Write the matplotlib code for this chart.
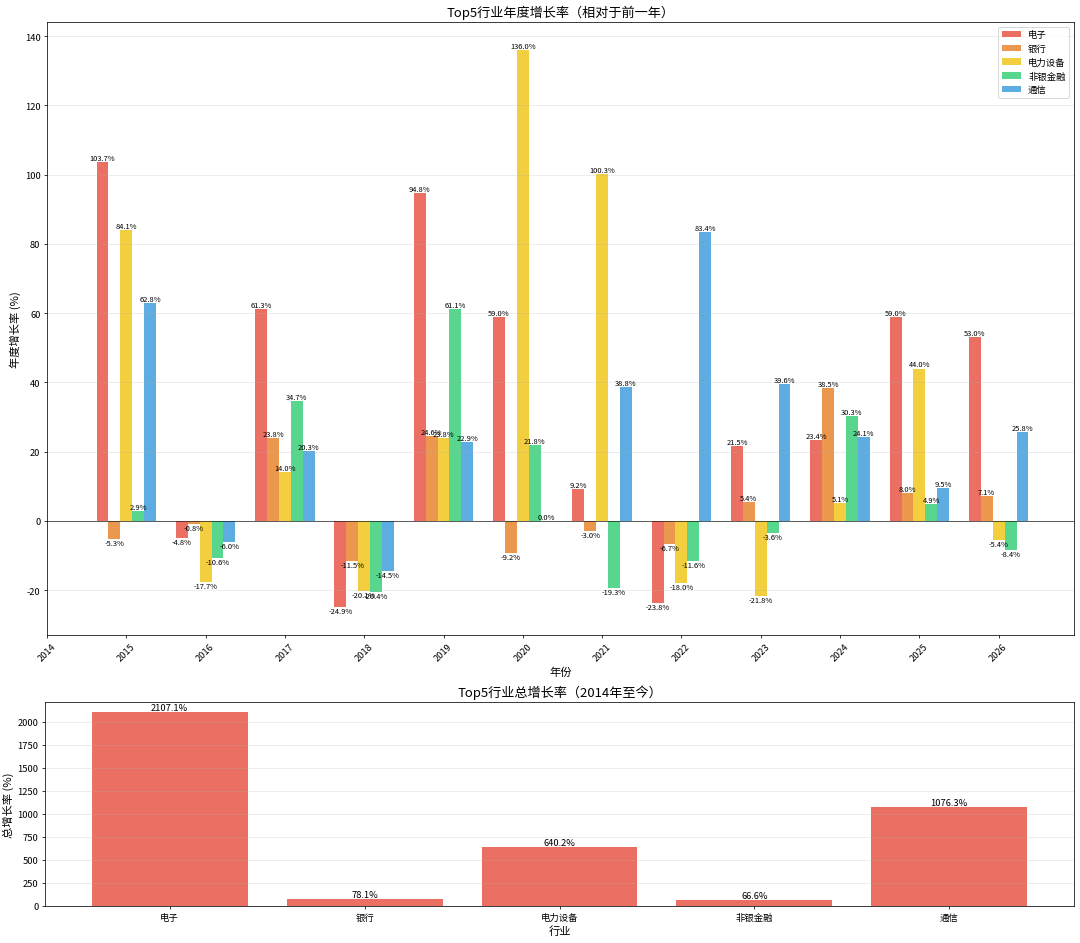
import matplotlib
matplotlib.use("Agg")
import matplotlib.pyplot as plt
import numpy as np

plt.rcParams['font.family'] = ['Noto Sans CJK SC', 'DejaVu Sans']
plt.rcParams['axes.unicode_minus'] = False

years = [2015, 2016, 2017, 2018, 2019, 2020, 2021, 2022, 2023, 2024, 2025, 2026]
industries = ['电子', '银行', '电力设备', '非银金融', '通信']
colors = ['#e74c3c', '#e67e22', '#f1c40f', '#2ecc71', '#3498db']

growth_dianzi = [103.7, -4.8, 61.3, -24.9, 94.8, 59.0, 9.2, -23.8, 21.5, 23.4, 59.0, 53.0]
growth_yinhang = [-5.3, -0.8, 23.8, -11.5, 24.6, -9.2, -3.0, -6.7, 5.4, 38.5, 8.0, 7.1]
growth_dianli = [84.1, -17.7, 14.0, -20.1, 23.8, 136.0, 100.3, -18.0, -21.8, 5.1, 44.0, -5.4]
growth_feiyin = [2.9, -10.6, 34.7, -20.4, 61.1, 21.8, -19.3, -11.6, -3.6, 30.3, 4.9, -8.4]
growth_tongxin = [62.8, -6.0, 20.3, -14.5, 22.9, 0.0, 38.8, 83.4, 39.6, 24.1, 9.5, 25.8]
series = [growth_dianzi, growth_yinhang, growth_dianli, growth_feiyin, growth_tongxin]

total_growth = [2107.1, 78.1, 640.2, 66.6, 1076.3]
xtick_years = list(range(2014, 2027))

fig = plt.figure(figsize=(16, 13.985), dpi=67.5)
ax1 = fig.add_axes([47/1080, 1-636/944, (1074-47)/1080, (636-23)/944])
ax2 = fig.add_axes([45/1080, 1-907/944, (1074-45)/1080, (907-703)/944])

width = 0.15
x = np.array(years, dtype=float)
for i, (name, vals, c) in enumerate(zip(industries, series, colors)):
    pos = x + (i - 2) * width
    bars = ax1.bar(pos, vals, width, label=name, color=c, alpha=0.8)
    for b, v in zip(bars, vals):
        if v >= 0:
            ax1.text(b.get_x() + b.get_width()/2, v, f'{v:.1f}%', ha='center', va='bottom', fontsize=8)
        else:
            ax1.text(b.get_x() + b.get_width()/2, v, f'{v:.1f}%', ha='center', va='top', fontsize=8)

ax1.axhline(0, color='black', linewidth=0.8, alpha=0.8)
ax1.set_xlim(2014, 2026.95)
ax1.set_xticks(xtick_years)
ax1.set_xticklabels([str(y) for y in xtick_years], rotation=45, fontsize=10)
ax1.tick_params(axis='y', labelsize=10)
ax1.set_title('Top5行业年度增长率（相对于前一年）', fontsize=14)
ax1.set_xlabel('年份', fontsize=12)
ax1.set_ylabel('年度增长率 (%)', fontsize=12)
ax1.grid(axis='y', alpha=0.3)
ax1.legend(loc='upper right', fontsize=10)

bars2 = ax2.bar(industries, total_growth, color=colors[0], alpha=0.8)
for b, v in zip(bars2, total_growth):
    ax2.text(b.get_x() + b.get_width()/2, v, f'{v:.1f}%', ha='center', va='bottom', fontsize=10)
ax2.set_title('Top5行业总增长率（2014年至今）', fontsize=14)
ax2.set_xlabel('行业', fontsize=12)
ax2.set_ylabel('总增长率 (%)', fontsize=12)
ax2.tick_params(labelsize=10)
ax2.grid(axis='y', alpha=0.3)

fig.savefig('out.png', dpi=67.5)
